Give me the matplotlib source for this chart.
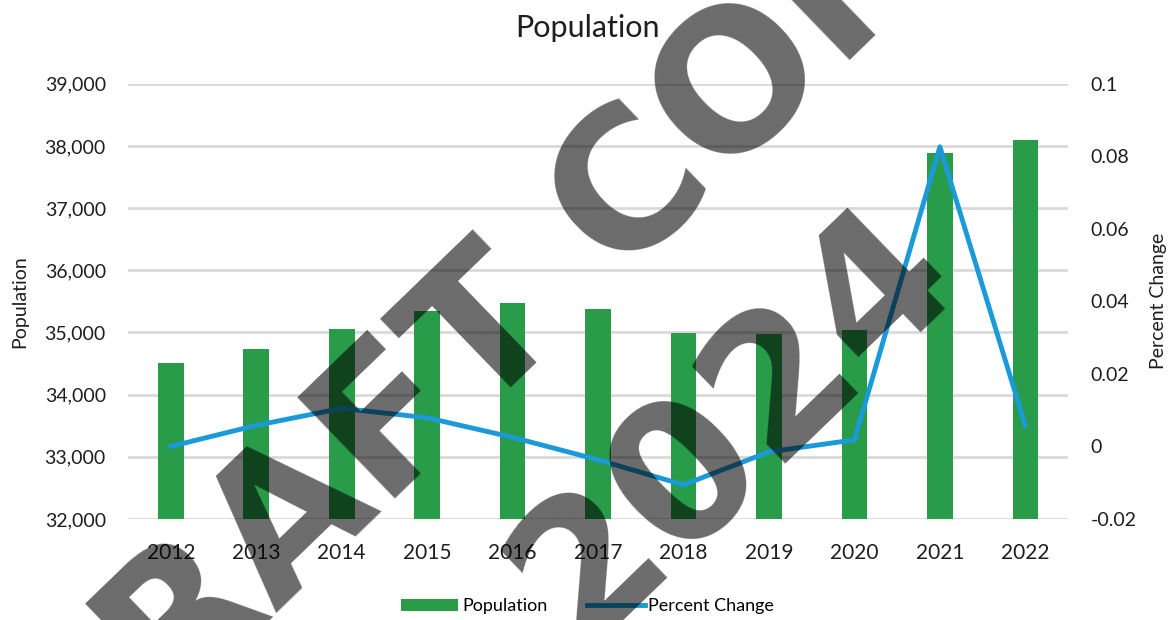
import numpy as np
import matplotlib
matplotlib.use('Agg')
import matplotlib.pyplot as plt
from matplotlib.ticker import FuncFormatter, MultipleLocator

plt.rcParams['font.family'] = ['Lato', 'DejaVu Sans']

years = ['2012', '2013', '2014', '2015', '2016', '2017', '2018', '2019', '2020', '2021', '2022']
population = [34510, 34735, 35055, 35345, 35475, 35380, 34990, 34975, 35040, 37890, 38100]
pct_change = [0.0, 0.0058, 0.0105, 0.0079, 0.0025, -0.0037, -0.0106, -0.0015, 0.0018, 0.0826, 0.0057]

bar_color = '#289c48'
line_color = '#1a9ad8'
text_color = '#1e1e1e'

fig = plt.figure(figsize=(11.75, 6.2), dpi=100)
ax = fig.add_axes([0.109, 0.163, 0.800, 0.702])
ax2 = ax.twinx()

x = np.arange(len(years))
bars = ax.bar(x, population, width=0.30, color=bar_color, label='Population', zorder=2)
line, = ax2.plot(x, pct_change, color=line_color, lw=3.5, label='Percent Change', zorder=3)

ax.set_xlim(-0.5, len(years) - 0.5)
ax.set_ylim(32000, 39000)
ax.yaxis.set_major_locator(MultipleLocator(1000))
ax.yaxis.set_major_formatter(FuncFormatter(lambda v, p: f'{int(v):,}'))
ax.set_xticks(x)
ax.set_xticklabels(years)
ax.grid(axis='y', color='#d9d9d9', lw=2, zorder=0)
ax.set_axisbelow(True)

ax2.set_ylim(-0.02, 0.1)
ax2.set_yticks([-0.02, 0, 0.02, 0.04, 0.06, 0.08, 0.1])
ax2.yaxis.set_major_formatter(FuncFormatter(lambda v, p: f'{round(v, 2):g}'))

for a in (ax, ax2):
    for s in a.spines.values():
        s.set_visible(False)
    a.tick_params(length=0, labelsize=14, colors=text_color)
ax.tick_params(axis='x', pad=17, labelsize=15)
ax.tick_params(axis='y', pad=16)
ax2.tick_params(axis='y', pad=16)

ax.set_ylabel('Population', fontsize=14, color=text_color, labelpad=12)
ax2.set_ylabel('Percent Change', fontsize=14, color=text_color, labelpad=10)
fig.text(0.5, 0.955, 'Population', ha='center', va='center', fontsize=22, color=text_color)

fig.legend([bars, line], ['Population', 'Percent Change'], loc='center',
           bbox_to_anchor=(0.5, 0.022), ncol=2, frameon=False, fontsize=13,
           handlelength=3.2, handletextpad=0.2, columnspacing=2.2)

# watermark stamped over the whole figure, one text per line
stamp = dict(rotation=44, rotation_mode='anchor', ha='center', va='baseline',
             fontsize=138, fontweight='bold', family='DejaVu Sans',
             color='black', alpha=0.58, zorder=10)
fig.text(0.4655, 0.4323, 'DRAFT COPY', **stamp)
fig.text(0.6562, 0.2532, '2024', **stamp)

fig.savefig('out.png', dpi=100)
